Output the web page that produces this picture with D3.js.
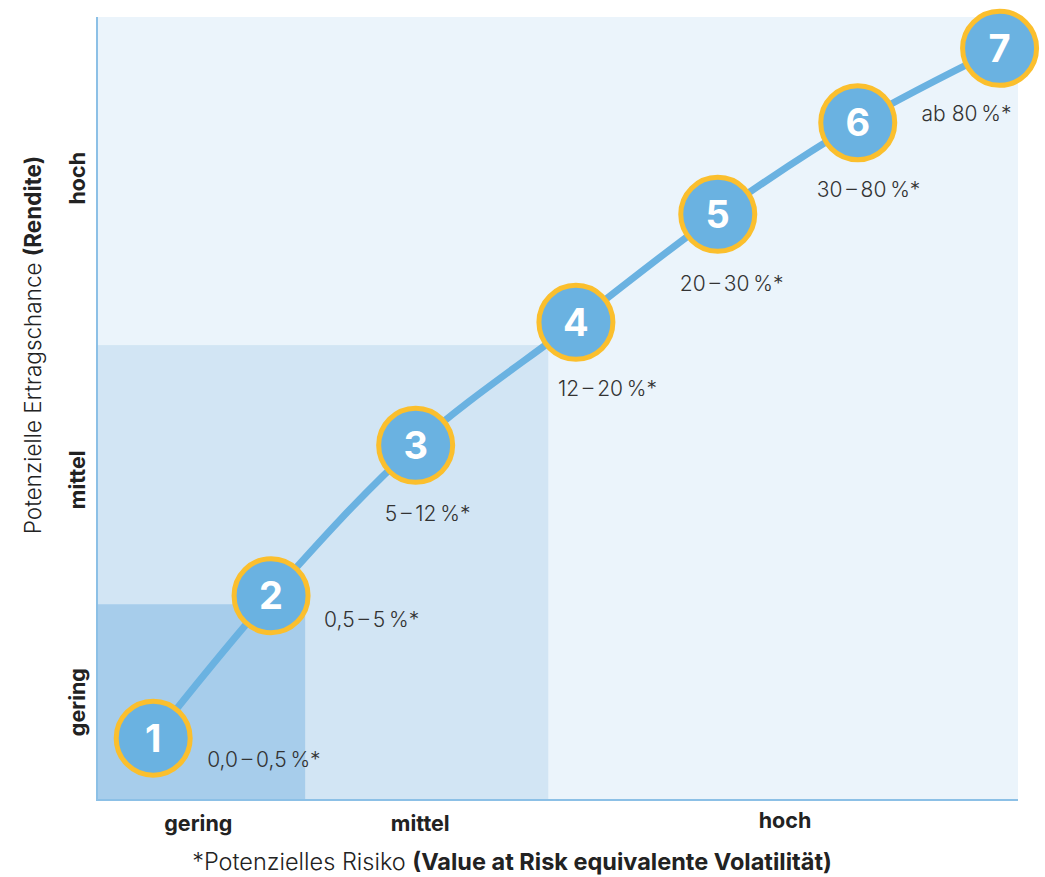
<!DOCTYPE html>
<html><head><meta charset="utf-8">
<script src="https://cdn.jsdelivr.net/npm/d3@7"></script>
<style>
body{margin:0;background:#fff;}
text{font-family:Inter,"Noto Sans",sans-serif;}
</style></head>
<body><svg id="c" width="1045" height="877"></svg>
<script>
// Risk classes
const classes = [1,2,3,4,5,6,7];
const riskX = [6.1,18.9,34.6,52.0,67.4,82.6,98.0];     // position on risk axis (0-100)
const returnY = [7.9,26.1,45.3,61.0,74.8,86.5,96.0];  // position on return axis (0-100)
const rangeLabels = ["0,0\u2009–\u20090,5\u2009%*","0,5\u2009–\u20095\u2009%*","5\u2009–\u200912\u2009%*","12\u2009–\u200920\u2009%*","20\u2009–\u200930\u2009%*","30\u2009–\u200980\u2009%*","ab 80\u2009%*"];
// Bands (risk/return level zones)
const bandLevels = ["hoch","mittel","gering"];
const bandX = [100,49.0,22.6];
const bandY = [100,58.1,25.0];
const xCatLabels = ["gering","mittel","hoch"];
const xCatPos = [11.0,35.1,74.7];
const yCatLabels = ["gering","mittel","hoch"];
const yCatPos = [12.5,40.9,79.4];

const svg = d3.select("#c");
const L=97,R=1018,T=17,B=800;
const x = d3.scaleLinear().domain([0,100]).range([L,R]);
const y = d3.scaleLinear().domain([0,100]).range([B,T]);
const bandColors = ["#ebf4fb","#d2e5f4","#a7cdeb"];

svg.selectAll("rect.band").data(bandLevels).enter().append("rect")
  .attr("x",x(0)).attr("y",(d,i)=>y(bandY[i]))
  .attr("width",(d,i)=>x(bandX[i])-x(0))
  .attr("height",(d,i)=>y(0)-y(bandY[i]))
  .attr("fill",(d,i)=>bandColors[i]);

// axes lines
svg.append("line").attr("x1",x(0)).attr("x2",x(0)).attr("y1",y(100)).attr("y2",y(0)+1)
  .attr("stroke","#8cc0e6").attr("stroke-width",2);
svg.append("line").attr("x1",x(0)).attr("x2",x(100)).attr("y1",y(0)).attr("y2",y(0))
  .attr("stroke","#8cc0e6").attr("stroke-width",2);

// x category labels
svg.selectAll("text.xc").data(xCatLabels).enter().append("text")
  .attr("x",(d,i)=>x(xCatPos[i])).attr("y",(d,i)=>i==2?828:831)
  .attr("text-anchor","middle").attr("font-size",21.5).attr("font-weight",700).attr("fill","#222")
  .text(d=>d);
// y category labels
svg.selectAll("text.yc").data(yCatLabels).enter().append("text")
  .attr("transform",(d,i)=>`translate(85,${y(yCatPos[i])}) rotate(-90)`)
  .attr("text-anchor","middle").attr("font-size",21.5).attr("font-weight",700).attr("fill","#222")
  .text(d=>d);

// titles
const xt = svg.append("text").attr("x",512).attr("y",870).attr("text-anchor","middle")
  .attr("font-size",23.5).attr("fill","#222");
xt.append("tspan").attr("font-weight",300).text("*Potenzielles Risiko ");
xt.append("tspan").attr("font-weight",700).text("(Value at Risk equivalente Volatilität)");
const yt = svg.append("text").attr("transform","translate(41,345) rotate(-90)").attr("text-anchor","middle")
  .attr("font-size",22.5).attr("fill","#222");
yt.append("tspan").attr("font-weight",300).text("Potenzielle Ertragschance ");
yt.append("tspan").attr("font-weight",700).text("(Rendite)");

// curve
const pts = classes.map((c,i)=>[x(riskX[i]),y(returnY[i])]);
svg.append("path").attr("d",d3.line().curve(d3.curveCatmullRom.alpha(0.5))(pts))
  .attr("fill","none").attr("stroke","#6ab2e1").attr("stroke-width",7);

const g = svg.selectAll("g.pt").data(classes).enter().append("g")
  .attr("transform",(d,i)=>`translate(${x(riskX[i])},${y(returnY[i])})`);
g.append("circle").attr("r",37).attr("fill","#6ab2e1").attr("stroke","#fbbf2d").attr("stroke-width",5);
g.append("text").attr("text-anchor","middle").attr("dy","0.36em").attr("font-size",38)
  .attr("font-weight",700).attr("fill","#fff").text(d=>d);

const lx = [54,53,-31,-18,-38,-41,-78];
const ly = [22,24,68,66,69,67,65];
svg.selectAll("text.rl").data(rangeLabels).enter().append("text")
  .attr("x",(d,i)=>x(riskX[i])+lx[i]).attr("y",(d,i)=>y(returnY[i])+ly[i]).attr("dy","0.35em")
  .attr("font-size",21).attr("font-weight",300).attr("fill","#333").text(d=>d);
</script></body></html>
